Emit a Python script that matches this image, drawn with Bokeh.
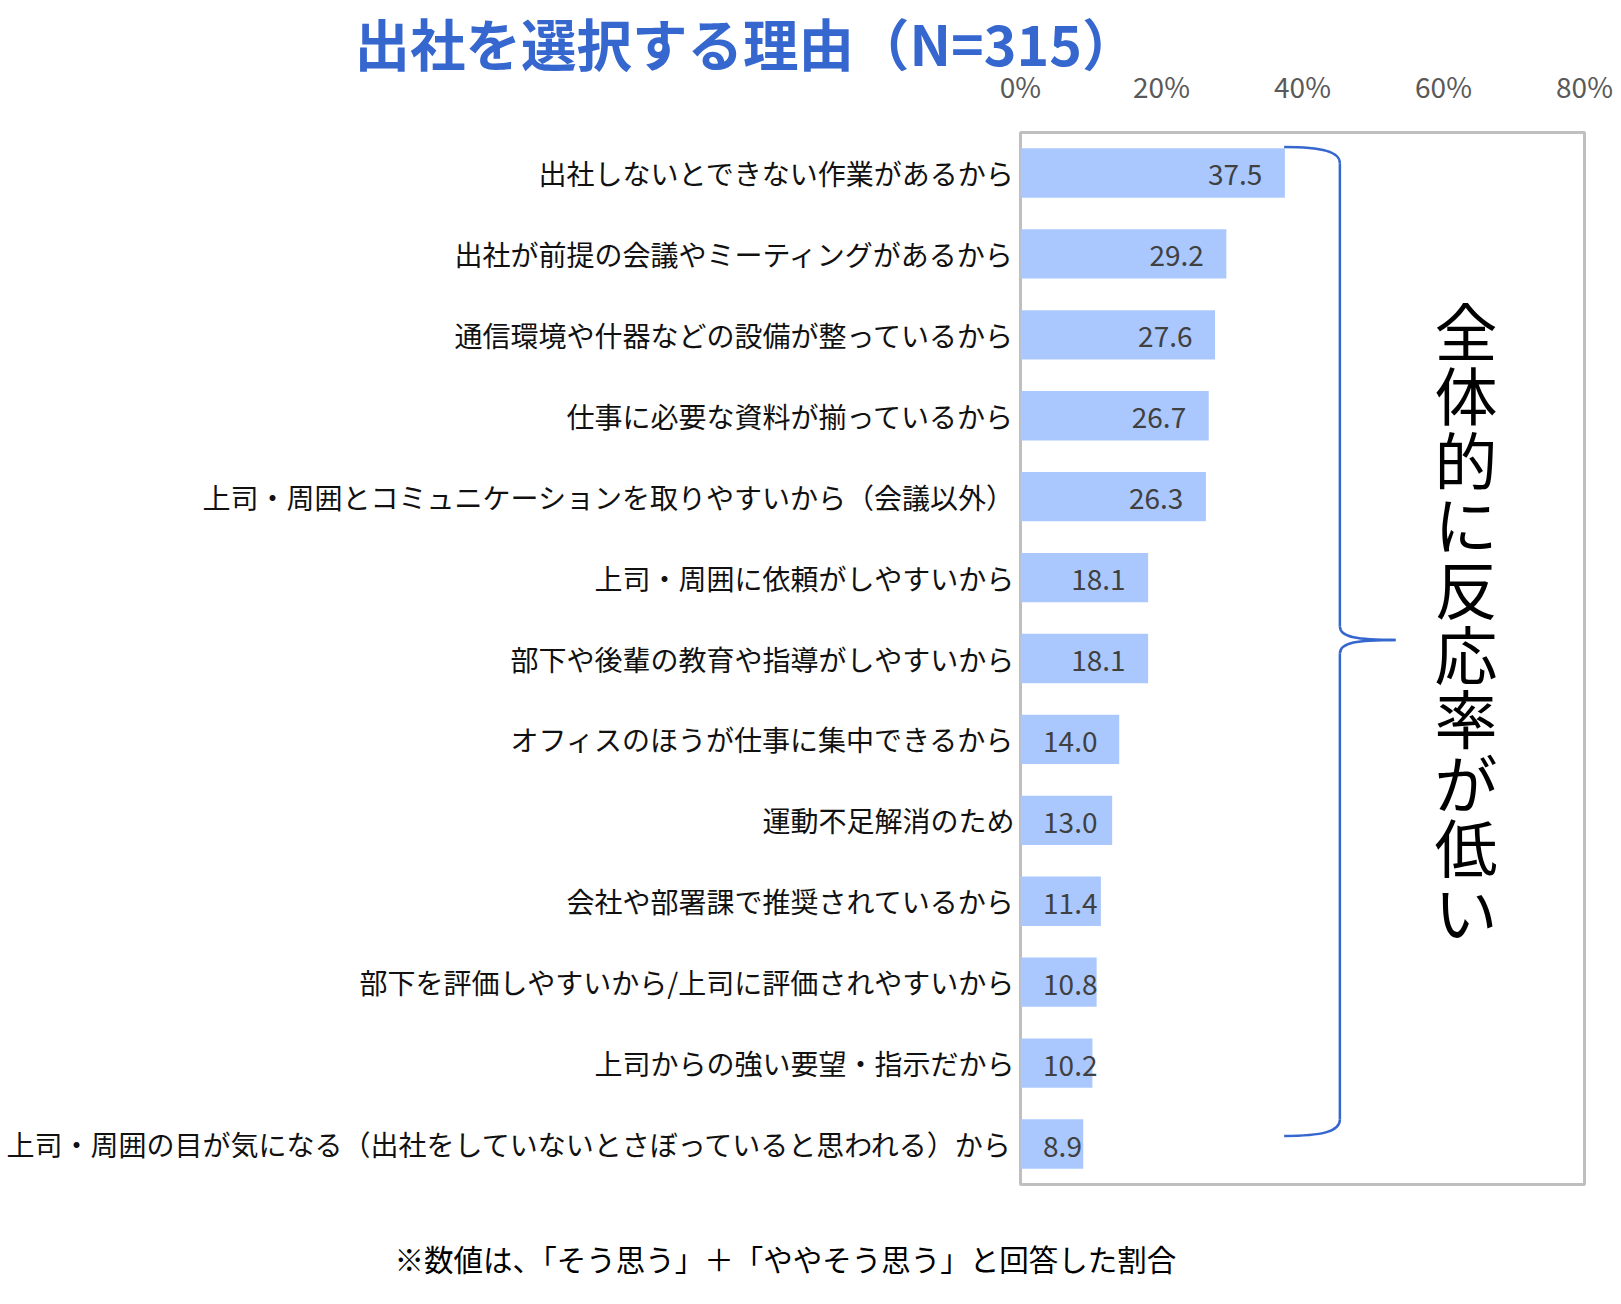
from bokeh.plotting import figure
from bokeh.models import Range1d, FixedTicker, ColumnDataSource, Title
from bokeh.embed import file_html
from bokeh.resources import INLINE
from bokeh.core.properties import value

title_text = "出社を選択する理由（N=315）"
note_text = "※数値は、「そう思う」＋「ややそう思う」と回答した割合"
side_text = "全体的に反応率が低い"

categories = [
    "出社しないとできない作業があるから",
    "出社が前提の会議やミーティングがあるから",
    "通信環境や什器などの設備が整っているから",
    "仕事に必要な資料が揃っているから",
    "上司・周囲とコミュニケーションを取りやすいから（会議以外）",
    "上司・周囲に依頼がしやすいから",
    "部下や後輩の教育や指導がしやすいから",
    "オフィスのほうが仕事に集中できるから",
    "運動不足解消のため",
    "会社や部署課で推奨されているから",
    "部下を評価しやすいから/上司に評価されやすいから",
    "上司からの強い要望・指示だから",
    "上司・周囲の目が気になる（出社をしていないとさぼっていると思われる）から",
]
values = [37.5, 29.2, 27.6, 26.7, 26.3, 18.1, 18.1, 14.0, 13.0, 11.4, 10.8, 10.2, 8.9]
x_ticks = [0, 20, 40, 60, 80]

FONT = "Noto Sans CJK JP"
BAR = "#aac8fd"
BLUE = "#3567cf"

n = len(categories)
ypos = list(range(n))

p = figure(width=1613, height=1296, output_backend="svg", toolbar_location=None,
           x_range=Range1d(0, 80), y_range=Range1d(n - 0.5, -0.5),
           x_axis_location="above", title=None,
           min_border_left=1020, min_border_top=132, min_border_right=29, min_border_bottom=112)
p.outline_line_color = "#bfbfbf"
p.outline_line_width = 3
p.xgrid.visible = False
p.ygrid.visible = False

xa = p.xaxis[0]
xa.ticker = FixedTicker(ticks=x_ticks)
xa.major_label_overrides = {t: f"{t}%" for t in x_ticks}
xa.axis_line_color = None
xa.major_tick_line_color = None
xa.minor_tick_line_color = None
xa.major_label_text_font = FONT
xa.major_label_text_font_size = "28px"
xa.major_label_text_color = "#595959"
xa.major_label_standoff = 21

ya = p.yaxis[0]
ya.ticker = FixedTicker(ticks=ypos)
ya.major_label_overrides = {i: c for i, c in zip(ypos, categories)}
ya.axis_line_color = None
ya.major_tick_line_color = None
ya.minor_tick_line_color = None
ya.major_label_text_font = FONT
ya.major_label_text_font_size = "28px"
ya.major_label_text_color = "#111111"
ya.major_label_standoff = 0

src = ColumnDataSource(dict(y=ypos, v=values))
p.hbar(y="y", right="v", left=0, height=0.61, source=src, fill_color=BAR, line_color=None)

# value labels: inside end, clamped to bar start when too narrow
fs = 28
px_per_unit = 564 / 80.0
pad = 3.2
right_x, right_t, right_y = [], [], []
left_x, left_t, left_y = [], [], []
for yi, v in zip(ypos, values):
    t = f"{v:.1f}"
    w = ((len(t) - 1) * 0.56 + 0.27) * fs / px_per_unit
    if v - pad - w < pad:
        left_x.append(pad); left_t.append(t); left_y.append(yi)
    else:
        right_x.append(v - pad); right_t.append(t); right_y.append(yi)
p.text(x=right_x, y=right_y, text=right_t, text_align="right", text_baseline="middle",
       text_font=value(FONT), text_font_size=f"{fs}px", text_color="#404040", y_offset=2)
p.text(x=left_x, y=left_y, text=left_t, text_align="left", text_baseline="middle",
       text_font=value(FONT), text_font_size=f"{fs}px", text_color="#404040", y_offset=2)

# bracket
bx0, bx1, bx2 = 37.4, 45.3, 53.2
ytop, ymid, ybot = -0.32, 5.77, 11.9
lw = 2.5
p.bezier(x0=[bx0], y0=[ytop], x1=[bx1], y1=[ytop + 0.2],
         cx0=[bx0 + 5.5], cy0=[ytop], cx1=[bx1], cy1=[ytop + 0.06],
         line_color=BLUE, line_width=lw)
p.segment(x0=[bx1, bx1], y0=[ytop + 0.2, ymid + 0.17], x1=[bx1, bx1], y1=[ymid - 0.17, ybot - 0.2],
          line_color=BLUE, line_width=lw)
p.bezier(x0=[bx1, bx2], y0=[ymid - 0.17, ymid], x1=[bx2, bx1], y1=[ymid, ymid + 0.17],
         cx0=[bx1, bx1 + 2.5], cy0=[ymid - 0.03, ymid], cx1=[bx1 + 2.5, bx1], cy1=[ymid, ymid + 0.03],
         line_color=BLUE, line_width=lw)
p.bezier(x0=[bx1], y0=[ybot - 0.2], x1=[bx0], y1=[ybot],
         cx0=[bx1], cy0=[ybot - 0.06], cx1=[bx0 + 5.5], cy1=[ybot],
         line_color=BLUE, line_width=lw)

# vertical side text
p.text(x=[63.2], y=[5.51], text=["\n".join(side_text)], text_align="center", text_baseline="middle",
       text_font=value(FONT), text_font_size="63px", text_color="#000000", text_line_height=0.71)

# title (above) and footnote (below) as Title panels, offset relative to frame left
p.add_layout(Title(text=title_text, align="left", offset=-666, standoff=-39,
                   text_font=FONT, text_font_size="55.5px", text_font_style="bold",
                   text_color=BLUE), "above")
# invisible spacer panel between the frame and the footnote
p.add_layout(Title(text=" ", align="left", offset=0, standoff=33,
                   text_font=FONT, text_font_size="10px", text_color="white"), "below")
p.add_layout(Title(text=note_text, align="left", offset=-626, standoff=0,
                   text_font=FONT, text_font_size="29.5px", text_font_style="normal",
                   text_color="#000000"), "below")

open("out.html", "w").write(file_html(p, INLINE))
